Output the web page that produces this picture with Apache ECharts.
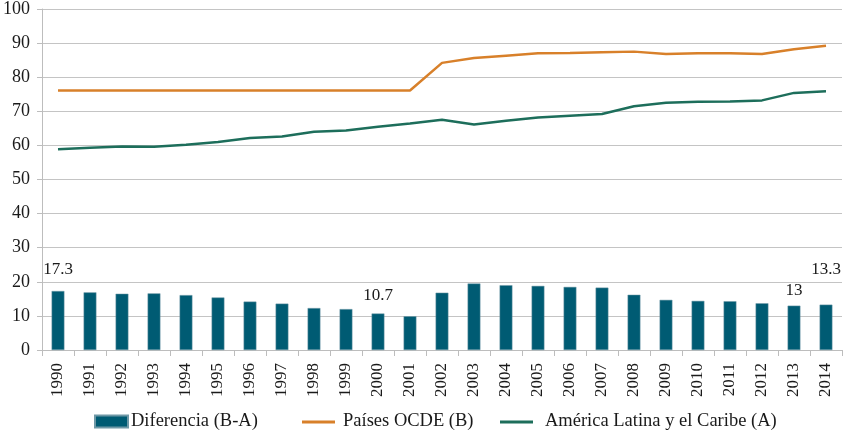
<!DOCTYPE html>
<html><head><meta charset="utf-8">
<script src="https://cdn.jsdelivr.net/npm/echarts@6/dist/echarts.min.js"></script>
<style>html,body{margin:0;padding:0;background:#fff}#c{width:849px;height:434px}</style>
</head><body><div id="c"></div>
<script>
var years = ['1990','1991','1992','1993','1994','1995','1996','1997','1998','1999','2000','2001','2002','2003','2004','2005','2006','2007','2008','2009','2010','2011','2012','2013','2014'];
var diferencia = [17.3,16.9,16.5,16.6,16.1,15.4,14.2,13.6,12.3,12.0,10.7,9.9,16.8,19.5,19.0,18.8,18.5,18.3,16.2,14.7,14.4,14.3,13.7,13.0,13.3];
var ocde = [76.1,76.1,76.1,76.1,76.1,76.1,76.1,76.1,76.1,76.1,76.1,76.1,84.2,85.6,86.3,87.0,87.1,87.3,87.5,86.8,87.0,87.0,86.8,88.2,89.2];
var latam = [58.9,59.3,59.7,59.6,60.2,61.0,62.2,62.6,64.0,64.4,65.5,66.4,67.5,66.1,67.2,68.2,68.7,69.2,71.5,72.5,72.8,72.9,73.2,75.4,75.9];
var labelled = {0:[0,-8], 10:[0,-4], 23:[0,-2], 24:[0,-22]};
var font = '"Liberation Serif", "DejaVu Serif", serif';
var txt = '#1a1a1a';
var barData = diferencia.map(function(v,i){
  var o = {value:v};
  if (labelled[i]) {
    o.label = {show:true, position:'top', offset:labelled[i], formatter:function(p){return String(p.value);},
      fontFamily:font, fontSize:17, color:txt};
  }
  return o;
});
var lineIcon = 'path://M0,0 L0.01,0 M0,5 L33,5 L33,8 L0,8 Z M0,12 L0.01,12';
function leg(name, left, icon, gap){
  return {left:left, bottom:3, itemWidth:33, itemHeight:12, itemGap:10, padding:0,
    textStyle:{fontFamily:font, fontSize:18.5, color:txt, padding:[0,0,0,gap]},
    data:[{name:name, icon:icon}]};
}
var chart = echarts.init(document.getElementById('c'));
chart.setOption({
  animation:false,
  textStyle:{fontFamily:font},
  grid:{left:39, right:7, top:5, bottom:84},
  legend:[
    leg('Diferencia (B-A)', 94, 'rect', -2),
    leg('Países OCDE (B)', 302, lineIcon, 3),
    leg('América Latina y el Caribe (A)', 500, lineIcon, 7)
  ],
  xAxis:{
    type:'category', data:years, boundaryGap:true,
    axisLine:{lineStyle:{color:'#bdbdbd', width:1}},
    axisTick:{show:true, alignWithLabel:false, length:6, lineStyle:{color:'#bdbdbd'}},
    axisLabel:{rotate:90, fontFamily:font, fontSize:17, color:txt, margin:13, interval:0}
  },
  yAxis:{
    type:'value', min:0, max:100, interval:10,
    axisLine:{show:true, lineStyle:{color:'#bdbdbd'}},
    axisTick:{show:true, length:5, lineStyle:{color:'#bdbdbd'}},
    splitLine:{lineStyle:{color:'#c4c4c4', width:1}},
    axisLabel:{fontFamily:font, fontSize:18, color:txt, margin:12}
  },
  series:[
    {name:'Diferencia (B-A)', type:'bar', data:barData, barWidth:'40%',
      itemStyle:{color:'#005b73', borderColor:'#6e98a6', borderWidth:0.5}},
    {name:'Países OCDE (B)', type:'line', data:ocde, showSymbol:false, symbol:'none',
      lineStyle:{color:'#d8802a', width:2.5}, itemStyle:{color:'#d8802a'}},
    {name:'América Latina y el Caribe (A)', type:'line', data:latam, showSymbol:false, symbol:'none',
      lineStyle:{color:'#1d6e5b', width:2.5}, itemStyle:{color:'#1d6e5b'}}
  ]
});
</script></body></html>
